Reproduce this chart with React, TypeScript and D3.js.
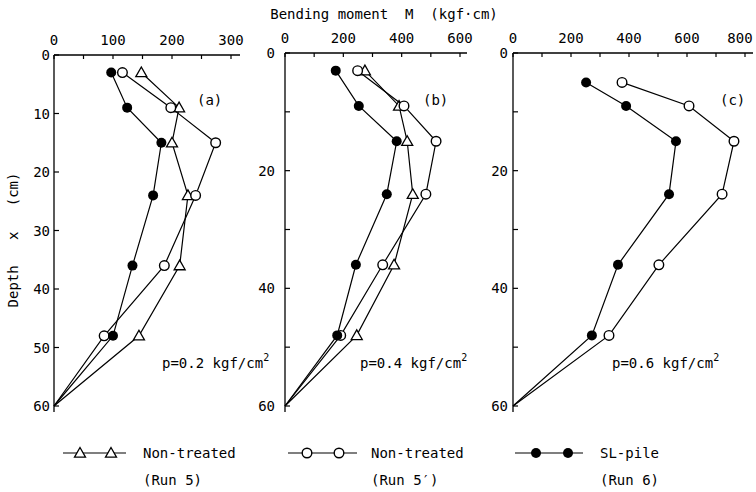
import React from "react";
import * as d3 from "d3";

// depth (cm) of the gauge points, last one is the pile tip
const depths = [3, 9, 15, 24, 36, 48, 60];
const depthsC = [5, 9, 15, 24, 36, 48, 60];

// bending moment M (kgf·cm)
const triA = [148, 212, 200, 227, 213, 144, 0];
const circA = [116, 198, 274, 240, 187, 85, 0];
const dotA = [97, 124, 182, 168, 133, 100, 0];

const triB = [274, 391, 419, 438, 374, 246, 0];
const circB = [249, 408, 518, 483, 335, 191, 0];
const dotB = [174, 253, 383, 349, 243, 179, 0];

const circC = [376, 607, 762, 721, 503, 331, 0];
const dotC = [252, 390, 562, 538, 362, 272, 0];

const xTicksA = [0, 100, 200, 300];
const xTicksB = [0, 200, 400, 600];
const xTicksC = [0, 200, 400, 600, 800];
const yTicksA = [0, 10, 20, 30, 40, 50, 60];
const yTicksBC = [0, 20, 40, 60];

const FONT = "'DejaVu Sans Mono', monospace";

type Series = { kind: "tri" | "circ" | "dot"; values: number[]; depth: number[] };

type PanelProps = {
  x0: number;
  x1: number;
  axisEnd: number;
  top: number;
  max: number;
  minorStep: number;
  xTicks: number[];
  yTicks: number[];
  labelRight: number;
  series: Series[];
  tag: string;
  tagX: number;
  pText: string;
  pX: number;
};

const Marker = ({ kind, x, y }: { kind: string; x: number; y: number }) => {
  if (kind === "tri") {
    const s = 5.5;
    return (
      <path
        d={`M${x},${y - s}L${x + s},${y + s * 0.75}L${x - s},${y + s * 0.75}Z`}
        fill="white"
        stroke="black"
        strokeWidth={1.3}
      />
    );
  }
  if (kind === "circ") {
    return <circle cx={x} cy={y} r={4.8} fill="white" stroke="black" strokeWidth={1.4} />;
  }
  return <circle cx={x} cy={y} r={5} fill="black" />;
};

const Panel = (p: PanelProps) => {
  const x = d3.scaleLinear().domain([0, p.max]).range([p.x0, p.x1]);
  const y = d3.scaleLinear().domain([0, 60]).range([p.top, 406]);
  const minor = d3.range(0, p.max + 1, p.minorStep);
  const yMinor = d3.range(0, 61, 10);
  const line = d3
    .line<[number, number]>()
    .x((d) => x(d[0]))
    .y((d) => y(d[1]));

  return (
    <g fontFamily={FONT} fontSize={14} fill="black">
      <line x1={p.x0} x2={p.axisEnd} y1={p.top} y2={p.top} stroke="black" strokeWidth={1.3} />
      <line x1={p.x0} x2={p.x0} y1={p.top} y2={412} stroke="black" strokeWidth={1.3} />
      {minor.map((t) => (
        <line key={"xt" + t} x1={x(t)} x2={x(t)} y1={p.top} y2={p.top + 4} stroke="black" strokeWidth={1.2} />
      ))}
      {yMinor.map((t) => (
        <line key={"yt" + t} x1={p.x0} x2={p.x0 + 5} y1={y(t)} y2={y(t)} stroke="black" strokeWidth={1.2} />
      ))}
      {p.xTicks.map((t) => (
        // keep the last label inside the page
        <text key={"xl" + t} x={Math.min(x(t), 740)} y={p.top - 10} textAnchor="middle">
          {t}
        </text>
      ))}
      {p.yTicks.map((t) => (
        <text key={"yl" + t} x={p.labelRight} y={y(t)} textAnchor="end" dominantBaseline="central">
          {t}
        </text>
      ))}
      {p.series.map((s, i) => {
        const pts = s.values.map((v, j) => [v, s.depth[j]] as [number, number]);
        return (
          <g key={"s" + i}>
            <path d={line(pts) || ""} fill="none" stroke="black" strokeWidth={1.2} />
            {pts.slice(0, -1).map((d, j) => (
              <Marker key={j} kind={s.kind} x={x(d[0])} y={y(d[1])} />
            ))}
          </g>
        );
      })}
      <text x={p.tagX} y={100} dominantBaseline="central">
        {p.tag}
      </text>
      <text x={p.pX} y={368}>
        {p.pText}
        <tspan fontSize={10} dy={-7}>
          2
        </tspan>
      </text>
    </g>
  );
};

const LegendItem = ({ kind, x1, x2, m1, m2, tx, l1, l2 }: any) => (
  <g fontFamily={FONT} fontSize={14}>
    <line x1={x1} x2={x2} y1={453} y2={453} stroke="black" strokeWidth={1.2} />
    <Marker kind={kind} x={m1} y={453} />
    <Marker kind={kind} x={m2} y={453} />
    <text x={tx} y={453} dominantBaseline="central">
      {l1}
    </text>
    <text x={tx} y={480} dominantBaseline="central">
      {l2}
    </text>
  </g>
);

export default function App() {
  return (
    <svg width={756} height={492} style={{ position: "absolute", left: 0, top: 0, background: "white" }}>
      <text
        x={384}
        y={19}
        textAnchor="middle"
        fontFamily={FONT}
        fontSize={14}
        style={{ whiteSpace: "pre" }}
      >
        {"Bending moment  M  (kgf·cm)"}
      </text>
      <text
        transform="translate(18,240) rotate(-90)"
        textAnchor="middle"
        fontFamily={FONT}
        fontSize={14}
        style={{ whiteSpace: "pre" }}
      >
        {"Depth   x   (cm)"}
      </text>
      <Panel
        x0={54}
        x1={231}
        axisEnd={240}
        top={55}
        max={300}
        minorStep={50}
        xTicks={xTicksA}
        yTicks={yTicksA}
        labelRight={50}
        series={[
          { kind: "tri", values: triA, depth: depths },
          { kind: "circ", values: circA, depth: depths },
          { kind: "dot", values: dotA, depth: depths },
        ]}
        tag="(a)"
        tagX={197}
        pText="p=0.2 kgf/cm"
        pX={162}
      />
      <Panel
        x0={285}
        x1={460}
        axisEnd={467}
        top={53}
        max={600}
        minorStep={100}
        xTicks={xTicksB}
        yTicks={yTicksBC}
        labelRight={275}
        series={[
          { kind: "tri", values: triB, depth: depths },
          { kind: "circ", values: circB, depth: depths },
          { kind: "dot", values: dotB, depth: depths },
        ]}
        tag="(b)"
        tagX={423}
        pText="p=0.4 kgf/cm"
        pX={360}
      />
      <Panel
        x0={513}
        x1={745}
        axisEnd={753}
        top={53}
        max={800}
        minorStep={100}
        xTicks={xTicksC}
        yTicks={yTicksBC}
        labelRight={508}
        series={[
          { kind: "circ", values: circC, depth: depthsC },
          { kind: "dot", values: dotC, depth: depthsC },
        ]}
        tag="(c)"
        tagX={720}
        pText="p=0.6 kgf/cm"
        pX={612}
      />
      <LegendItem kind="tri" x1={63} x2={126} m1={80} m2={111} tx={143} l1="Non-treated" l2="(Run 5)" />
      <LegendItem kind="circ" x1={288} x2={357} m1={307} m2={339} tx={371} l1="Non-treated" l2="(Run 5′)" />
      <LegendItem kind="dot" x1={515} x2={583} m1={536} m2={568} tx={600} l1="SL-pile" l2="(Run 6)" />
    </svg>
  );
}
